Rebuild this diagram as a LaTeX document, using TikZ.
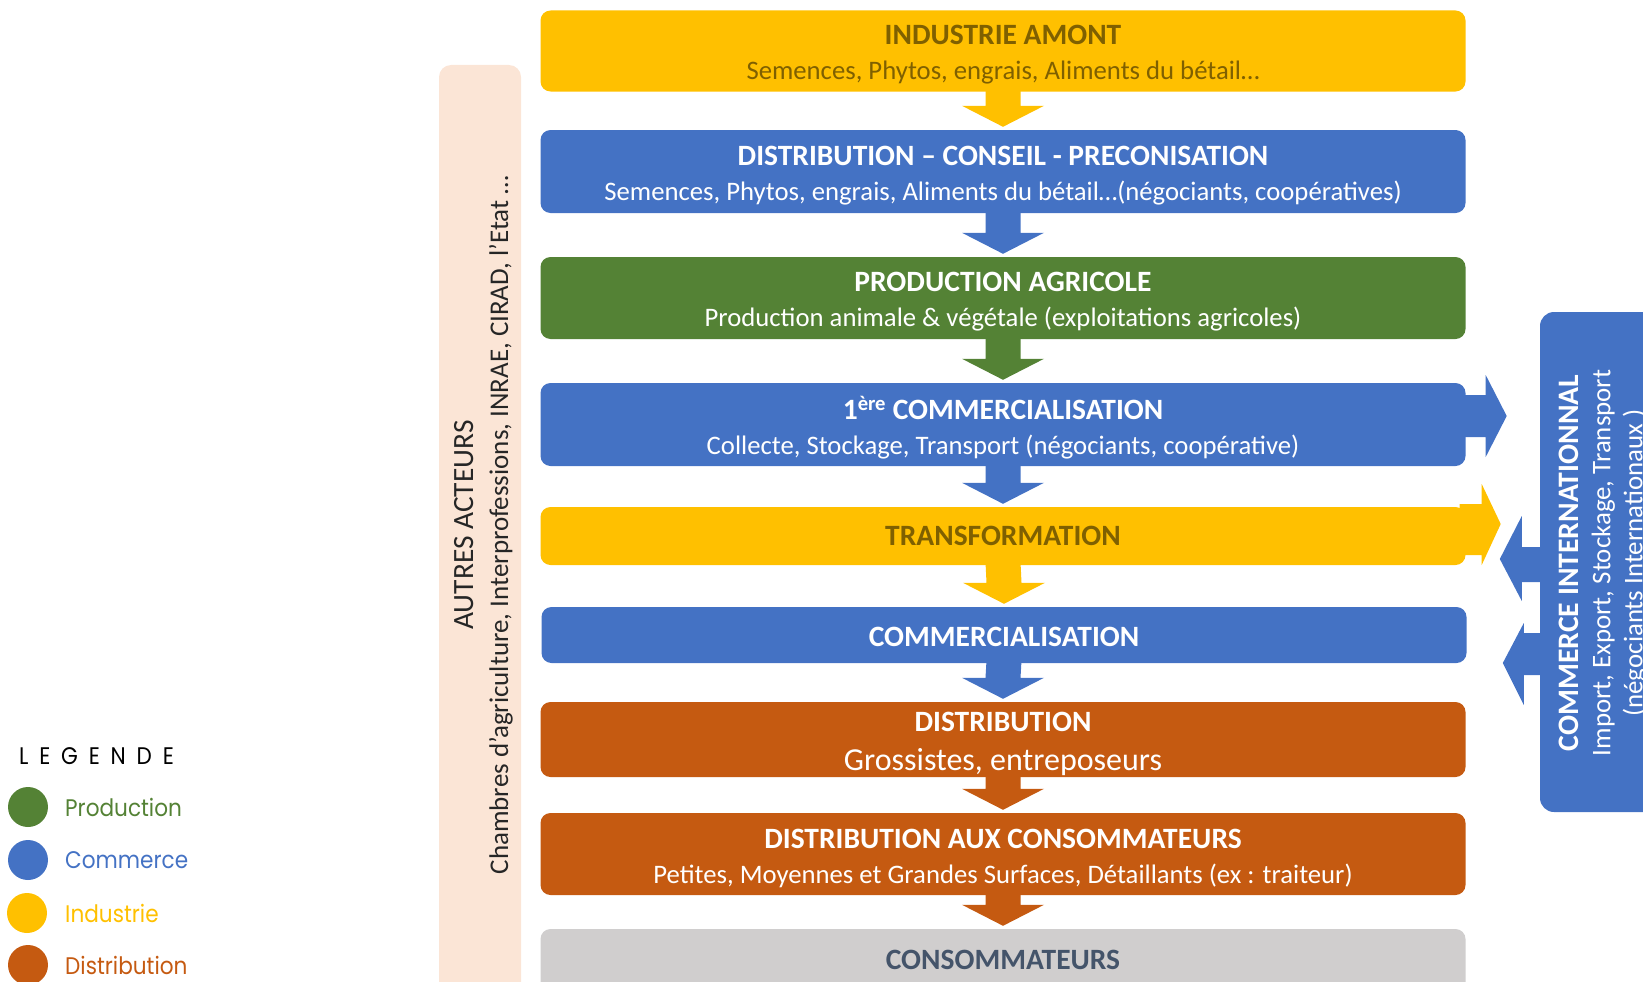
\documentclass[tikz,border=0pt]{standalone}
\usepackage{fontspec}
\setmainfont{Carlito}
\newfontfamily\legfont{Poppins}[FakeStretch=0.9]
\usetikzlibrary{calc}
\definecolor{cyel}{HTML}{FFC000}
\definecolor{cblu}{HTML}{4472C4}
\definecolor{cgrn}{HTML}{548235}
\definecolor{corg}{HTML}{C55A11}
\definecolor{cgry}{HTML}{D0CECE}
\definecolor{cpch}{HTML}{FBE5D6}
\definecolor{colv}{HTML}{7F6000}
\definecolor{cslt}{HTML}{44546A}
\newcommand\flowarrow[3]{%
  \fill[#3] ($(#1.south)+(-17.5,-3)$) -- ($(#2.north)+(-17.5,-24)$) -- ($(#2.north)+(-41,-24)$) -- ($(#2.north)+(0,-3)$) -- ($(#2.north)+(41,-24)$) -- ($(#2.north)+(17.5,-24)$) -- ($(#1.south)+(17.5,-3)$) -- cycle;}
\newcommand\ttl[1]{{\fontsize{29.5}{35}\selectfont\bfseries #1}}
\begin{document}
\begin{tikzpicture}[x=1pt,y=-1pt,
  box/.style={rounded corners=10pt, minimum width=925pt, inner sep=0pt},
  boxtxt/.style={inner sep=0pt, align=center, font=\fontsize{26.7}{35}\selectfont, text=white},
  legdot/.style={circle, inner sep=0pt, minimum size=40pt},
  leglab/.style={anchor=west, inner sep=0pt, font=\legfont\fontsize{24}{26}\selectfont}
]
\useasboundingbox (0,0) rectangle (1643,982);
\clip (0,0) rectangle (1643,982);

% other actors
\node[fill=cpch, rounded corners=12pt, minimum width=82pt, minimum height=934pt, inner sep=0pt] (pch) at (480,532) {};
\node[rotate=90, align=center, inner sep=0pt, font=\fontsize{27}{35}\selectfont, text=black!85] (pchtxt) at (483.5,525)
  {{\fontsize{29.4}{35}\selectfont AUTRES ACTEURS}\\Chambres d’agriculture, Interprofessions, INRAE, CIRAD, l’Etat …};

% international
\node[fill=cblu, rounded corners=14pt, minimum width=160pt, minimum height=500pt, inner sep=0pt] (ci) at (1620,562) {};
\node[rotate=90, align=center, inner sep=0pt, text=white, font=\fontsize{26.9}{32}\selectfont] (citxt) at (1603,563)
  {{\fontsize{29.7}{32}\selectfont\bfseries COMMERCE INTERNATIONNAL}\\Import, Export, Stockage, Transport\\(négociants Internationaux )};

% chain boxes
\node[box, fill=cyel, minimum height=81pt] (b1) at (1003,51) {};
\node[box, fill=cblu, minimum height=83pt] (b2) at (1003,171.5) {};
\node[box, fill=cgrn, minimum height=82pt] (b3) at (1003,298) {};
\node[box, fill=cblu, minimum height=83pt] (b4) at (1003,424.5) {};
\node[box, fill=cyel, minimum height=58pt] (b5) at (1003,536) {};
\node[box, fill=cblu, minimum height=56pt] (b6) at (1004,635) {};
\node[box, fill=corg, minimum height=75pt] (b7) at (1003,739.5) {};
\node[box, fill=corg, minimum height=82pt] (b8) at (1003,854) {};
\node[box, fill=cgry, minimum height=80pt] (b9) at (1003,969) {};

\node[boxtxt, text=colv] (t1) at ($(b1.center)+(0,4)$) {\ttl{INDUSTRIE AMONT}\\Semences, Phytos, engrais, Aliments du bétail…};
\node[boxtxt] (t2) at ($(b2.center)+(0,4)$) {\ttl{DISTRIBUTION – CONSEIL - PRECONISATION}\\Semences, Phytos, engrais, Aliments du bétail…(négociants, coopératives)};
\node[boxtxt] (t3) at ($(b3.center)+(0,4)$) {\ttl{PRODUCTION AGRICOLE}\\Production animale \& végétale (exploitations agricoles)};
\node[boxtxt] (t4) at ($(b4.center)+(0,3)$) {\ttl{1\textsuperscript{ère} COMMERCIALISATION}\\Collecte, Stockage, Transport (négociants, coopérative)};
\node[boxtxt, text=colv] (t5) at ($(b5.center)+(0,0)$) {\ttl{TRANSFORMATION}};
\node[boxtxt] (t6) at ($(b6.center)+(0,1.5)$) {\ttl{COMMERCIALISATION}};
\node[boxtxt] (t7) at ($(b7.center)+(0,4)$) {\ttl{DISTRIBUTION}\\[4pt]{\fontsize{32}{35}\selectfont Grossistes, entreposeurs}};
\node[boxtxt] (t8) at ($(b8.center)+(0,4)$) {\ttl{DISTRIBUTION AUX CONSOMMATEURS}\\Petites, Moyennes et Grandes Surfaces, Détaillants (ex : traiteur)};
\node[boxtxt, text=cslt] (t9) at (1003,960) {\ttl{CONSOMMATEURS}};

% down arrows
\flowarrow{b1}{b2}{cyel}
\flowarrow{b2}{b3}{cblu}
\flowarrow{b3}{b4}{cgrn}
\flowarrow{b4}{b5}{cblu}
\flowarrow{b5}{b6}{cyel}
\flowarrow{b6}{b7}{cblu}
\flowarrow{b7}{b8}{corg}
\flowarrow{b8}{b9}{corg}

% side arrows
\fill[cblu] ($(b4.east)+(-6,-29.5)$) -- ($(b4.east)+(20,-29.5)$) -- ($(b4.east)+(20,-49.5)$) -- ($(b4.east)+(41,-8.5)$) -- ($(b4.east)+(20,32.5)$) -- ($(b4.east)+(20,12.5)$) -- ($(b4.east)+(-6,12.5)$) -- cycle;
\fill[cyel] ($(b5.east)+(-6,-32)$) -- ($(b5.east)+(16,-32)$) -- ($(b5.east)+(16,-52)$) -- ($(b5.east)+(35,-12)$) -- ($(b5.east)+(16,29)$) -- ($(b5.east)+(16,19)$) -- ($(b5.east)+(-6,19)$) -- cycle;
\fill[cblu] ($(ci.west)+(6,-15)$) -- ($(ci.west)+(-18,-15)$) -- ($(ci.west)+(-18,-46)$) -- ($(ci.west)+(-40,-3)$) -- ($(ci.west)+(-18,39)$) -- ($(ci.west)+(-18,20)$) -- ($(ci.west)+(6,20)$) -- cycle;
\fill[cblu] ($(ci.west)+(6,71)$) -- ($(ci.west)+(-16,71)$) -- ($(ci.west)+(-16,61)$) -- ($(ci.west)+(-37,101)$) -- ($(ci.west)+(-16,143)$) -- ($(ci.west)+(-16,113)$) -- ($(ci.west)+(6,113)$) -- cycle;

% legend
\node[anchor=west, inner sep=0pt, font=\legfont\fontsize{24}{26}\selectfont\addfontfeatures{LetterSpace=45}] (legt) at (19,756) {LEGENDE};
\node[legdot, fill=cgrn] (lc1) at (28,807) {};
\node[legdot, fill=cblu] (lc2) at (28,860) {};
\node[legdot, fill=cyel] (lc3) at (27,913) {};
\node[legdot, fill=corg] (lc4) at (28,965) {};
\node[leglab, text=cgrn] (ll1) at (65,807) {Production};
\node[leglab, text=cblu] (ll2) at (65,860) {Commerce};
\node[leglab, text=cyel] (ll3) at (65,913) {Industrie};
\node[leglab, text=corg] (ll4) at (65,965) {Distribution};
\end{tikzpicture}
\end{document}
